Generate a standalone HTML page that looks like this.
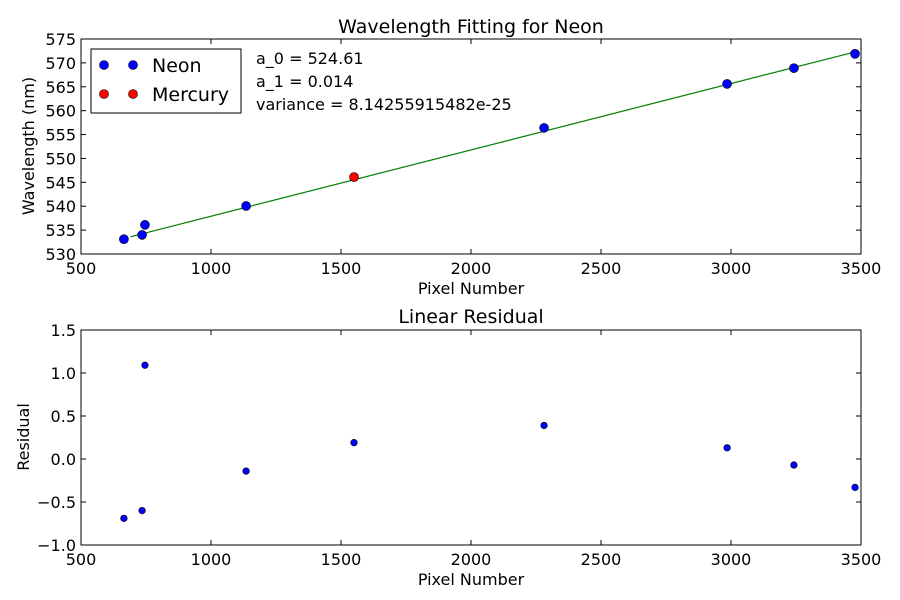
<!DOCTYPE html>
<html><head><meta charset="utf-8"><style>
html,body{margin:0;padding:0;background:#fff;}
svg{display:block;font-family:"DejaVu Sans","Liberation Sans",sans-serif;}
</style></head><body>
<svg id="c" width="900" height="600" xmlns="http://www.w3.org/2000/svg"></svg>
<script>
const neonX=[665,735,746,1135,2281,2985,3242,3477];
const neonY=[533.1,534.0,536.1,540.05,556.4,565.6,568.9,571.9];
const mercX=[1550];
const mercY=[546.1];
const fitX=[690,3477];
const fitY=[533.6,572.3];
const resX=[665,735,746,1135,1550,2281,2985,3242,3477];
const resY=[-0.69,-0.60,1.09,-0.14,0.19,0.39,0.13,-0.07,-0.33];
const xTicks=[500,1000,1500,2000,2500,3000,3500];
const yTicksTop=[530,535,540,545,550,555,560,565,570,575];
const yTicksBot=["-1.0","-0.5","0.0","0.5","1.0","1.5"];

const svg=document.getElementById('c');const NS='http://www.w3.org/2000/svg';
function mk(t,a,p,txt){const e=document.createElementNS(NS,t);for(const k in a)e.setAttribute(k,a[k]);if(txt!==undefined)e.textContent=txt;(p||svg).appendChild(e);return e;}
const L=81,R=861;
const sx=v=>L+(v-500)/3000*(R-L);
const T1=39,B1=254,syT=v=>B1-(v-530)/45*(B1-T1);
const T2=330,B2=545,syB=v=>B2-(v+1)/2.5*(B2-T2);

function axes(T,B,yt,sy,name){
  const g=mk('g',{});
  
  xTicks.forEach(t=>{const x=sx(t);mk('line',{x1:x,x2:x,y1:B,y2:B-5,stroke:'#000'},g);mk('line',{x1:x,x2:x,y1:T,y2:T+5,stroke:'#000'},g);
    const e=mk('text',{x:x,y:B+20,'text-anchor':'middle','font-size':16},g,t);});
  yt.forEach(t=>{const y=sy(parseFloat(t));mk('line',{x1:L,x2:L+5,y1:y,y2:y,stroke:'#000'},g);mk('line',{x1:R,x2:R-5,y1:y,y2:y,stroke:'#000'},g);
    const e=mk('text',{x:L-5,y:y+6,'text-anchor':'end','font-size':16},g,t.replace('-','\u2212'));});
  return g;
}
// top
const clip=mk('clipPath',{id:'cp'});mk('rect',{x:L,y:T1,width:R-L,height:B1-T1},clip);
axes(T1,B1,yTicksTop.map(String),syT,'top-axes');
const fl=mk('polyline',{points:fitX.map((x,i)=>sx(x)+','+syT(fitY[i])).join(' '),fill:'none',stroke:'#008000','stroke-width':1.2});

neonX.forEach((x,i)=>{const c=mk('circle',{cx:sx(x),cy:syT(neonY[i]),r:4.5,fill:'#0000ff',stroke:'#000','stroke-width':0.6,'clip-path':'url(#cp)'});});
mercX.forEach((x,i)=>{const c=mk('circle',{cx:sx(x),cy:syT(mercY[i]),r:4.5,fill:'#ff0000',stroke:'#000','stroke-width':0.6});});
mk('rect',{x:L,y:T1,width:R-L,height:B1-T1,fill:'none',stroke:'#000'});
let e=mk('text',{x:471,y:33,'text-anchor':'middle','font-size':19},null,'Wavelength Fitting for Neon');
e=mk('text',{x:471,y:294,'text-anchor':'middle','font-size':16},null,'Pixel Number');
e=mk('text',{x:34,y:146,'text-anchor':'middle','font-size':16,transform:'rotate(-90 34 146)'},null,'Wavelength (nm)');
// legend
const lg=mk('g',{});
mk('rect',{x:91,y:49,width:150,height:64,fill:'#fff',stroke:'#000'},lg);
[[65,'#0000ff','Neon'],[94,'#ff0000','Mercury']].forEach(([y,c,t])=>{mk('circle',{cx:104,cy:y,r:4.5,fill:c,stroke:'#000','stroke-width':0.6},lg);mk('circle',{cx:133,cy:y,r:4.5,fill:c,stroke:'#000','stroke-width':0.6},lg);
  const tt=mk('text',{x:152,y:y+7,'font-size':19},lg,t);});
['a_0 = 524.61','a_1 = 0.014','variance = 8.14255915482e-25'].forEach((t,i)=>{const a=mk('text',{x:256,y:64+i*23,'font-size':16},null,t);});
// bottom
axes(T2,B2,yTicksBot,syB,'bottom-axes');
resX.forEach((x,i)=>{const c=mk('circle',{cx:sx(x),cy:syB(resY[i]),r:3.3,fill:'#0000ff',stroke:'#000','stroke-width':0.6});});
mk('rect',{x:L,y:T2,width:R-L,height:B2-T2,fill:'none',stroke:'#000'});
e=mk('text',{x:471,y:323,'text-anchor':'middle','font-size':19},null,'Linear Residual');
e=mk('text',{x:471,y:585,'text-anchor':'middle','font-size':16},null,'Pixel Number');
e=mk('text',{x:29,y:437,'text-anchor':'middle','font-size':16,transform:'rotate(-90 29 437)'},null,'Residual');
</script>
</body></html>
